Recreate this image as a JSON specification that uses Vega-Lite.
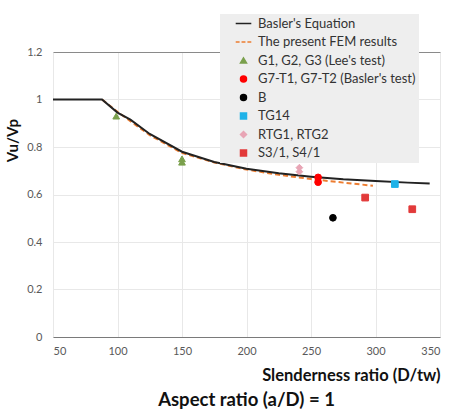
{
  "$schema": "https://vega.github.io/schema/vega-lite/v6.json",
  "width": 387,
  "height": 285,
  "autosize": {"type": "none"},
  "padding": {"left": 53, "top": 52, "right": 10, "bottom": 72},
  "background": "white",
  "config": {"font": "Lato", "view": {"stroke": null}},
  "title": {"text": "Aspect ratio (a/D) = 1", "orient": "bottom", "anchor": "middle", "fontSize": 18.5, "fontWeight": "bold", "font": "Lato", "color": "#111111", "offset": 7},
  "data": {"values": [
    {"series": "Basler's Equation", "x": 50, "y": 1},
    {"series": "Basler's Equation", "x": 88, "y": 1},
    {"series": "Basler's Equation", "x": 100, "y": 0.945},
    {"series": "Basler's Equation", "x": 110, "y": 0.915},
    {"series": "Basler's Equation", "x": 125, "y": 0.855},
    {"series": "Basler's Equation", "x": 150, "y": 0.78},
    {"series": "Basler's Equation", "x": 175, "y": 0.737},
    {"series": "Basler's Equation", "x": 200, "y": 0.708},
    {"series": "Basler's Equation", "x": 225, "y": 0.689},
    {"series": "Basler's Equation", "x": 250, "y": 0.675},
    {"series": "Basler's Equation", "x": 275, "y": 0.664},
    {"series": "Basler's Equation", "x": 300, "y": 0.657},
    {"series": "Basler's Equation", "x": 325, "y": 0.65},
    {"series": "Basler's Equation", "x": 342, "y": 0.646},
    {"series": "The present FEM results", "x": 88, "y": 1},
    {"series": "The present FEM results", "x": 100, "y": 0.948},
    {"series": "The present FEM results", "x": 125, "y": 0.85},
    {"series": "The present FEM results", "x": 150, "y": 0.775},
    {"series": "The present FEM results", "x": 175, "y": 0.735},
    {"series": "The present FEM results", "x": 200, "y": 0.705},
    {"series": "The present FEM results", "x": 225, "y": 0.683},
    {"series": "The present FEM results", "x": 250, "y": 0.665},
    {"series": "The present FEM results", "x": 275, "y": 0.65},
    {"series": "The present FEM results", "x": 298, "y": 0.637},
    {"series": "G1, G2, G3 (Lee's test)", "x": 99, "y": 0.93},
    {"series": "G1, G2, G3 (Lee's test)", "x": 150, "y": 0.75},
    {"series": "G1, G2, G3 (Lee's test)", "x": 150, "y": 0.736},
    {"series": "G7-T1, G7-T2 (Basler's test)", "x": 255.5, "y": 0.672},
    {"series": "G7-T1, G7-T2 (Basler's test)", "x": 255.5, "y": 0.652},
    {"series": "B", "x": 267, "y": 0.502},
    {"series": "TG14", "x": 315, "y": 0.644},
    {"series": "RTG1, RTG2", "x": 241, "y": 0.713},
    {"series": "RTG1, RTG2", "x": 241, "y": 0.696},
    {"series": "S3/1, S4/1", "x": 292, "y": 0.587},
    {"series": "S3/1, S4/1", "x": 328.5, "y": 0.538}
  ]},
  "encoding": {
    "x": {"field": "x", "type": "quantitative", "scale": {"domain": [50, 350], "nice": false, "zero": false},
      "axis": {"values": [50, 100, 150, 200, 250, 300, 350], "labelFontSize": 11, "labelColor": "#595959", "labelPadding": 8, "ticks": false, "domainColor": "#7a7a7a", "grid": true, "gridColor": "#e8e8e8", "title": "Slenderness ratio (D/tw)", "titleFontSize": 16.5, "titleFontWeight": "bold", "titleColor": "#111111", "titleAnchor": "end", "titlePadding": 11}},
    "y": {"field": "y", "type": "quantitative", "scale": {"domain": [0, 1.2], "nice": false},
      "axis": {"values": [0, 0.2, 0.4, 0.6, 0.8, 1, 1.2], "format": "~g", "labelFontSize": 11, "labelColor": "#595959", "labelPadding": 11, "ticks": false, "domain": false, "grid": true,
        "gridColor": {"condition": {"test": "datum.value > 1.1", "value": "#8a8a8a"}, "value": "#e8e8e8"},
        "title": "Vu/Vp", "titleFontSize": 15, "titleFontWeight": "bold", "titleColor": "#111111", "titleX": -33, "titleY": 88}}
  },
  "layer": [
    {"transform": [{"filter": "datum.series === 'The present FEM results'"}],
     "mark": {"type": "line", "color": "#ED7D31", "strokeWidth": 2, "strokeDash": [5, 3]}},
    {"transform": [{"filter": "datum.series === \"Basler's Equation\""}],
     "mark": {"type": "line", "color": "#222222", "strokeWidth": 2}},
    {"transform": [{"filter": "datum.series !== \"Basler's Equation\" && datum.series !== 'The present FEM results'"}],
     "mark": {"type": "point", "filled": true, "size": 45, "strokeWidth": 1, "opacity": 1},
     "encoding": {
       "fill": {"field": "series", "type": "nominal",
         "scale": {"domain": ["Basler's Equation", "The present FEM results", "G1, G2, G3 (Lee's test)", "G7-T1, G7-T2 (Basler's test)", "B", "TG14", "RTG1, RTG2", "S3/1, S4/1"],
                   "range": ["#222222", "#ED7D31", "#7AA04C", "#FF0000", "#000000", "#1FB2E8", "#E8A5B5", "#E23A3A"]},
         "legend": {"orient": "none", "legendX": 167, "legendY": -38, "title": null, "fillColor": "#eeeeee", "padding": 3, "labelFont": "Lato", "labelFontSize": 13, "labelColor": "#333333", "symbolSize": 36, "symbolStrokeWidth": 1.5, "symbolOffset": 14, "labelOffset": 8, "rowPadding": 4.5, "labelLimit": 300, "encode": {"legend": {"update": {"width": {"value": 234}}}}}},
       "stroke": {"field": "series", "type": "nominal",
         "scale": {"domain": ["Basler's Equation", "The present FEM results", "G1, G2, G3 (Lee's test)", "G7-T1, G7-T2 (Basler's test)", "B", "TG14", "RTG1, RTG2", "S3/1, S4/1"],
                   "range": ["#222222", "#ED7D31", "#7AA04C", "#FF0000", "#000000", "#1FB2E8", "#E8A5B5", "#E23A3A"]},
         "legend": {"orient": "none", "legendX": 167, "legendY": -38, "title": null, "fillColor": "#eeeeee", "padding": 3, "labelFont": "Lato", "labelFontSize": 13, "labelColor": "#333333", "symbolSize": 36, "symbolStrokeWidth": 1.5, "symbolOffset": 14, "labelOffset": 8, "rowPadding": 4.5, "labelLimit": 300, "encode": {"legend": {"update": {"width": {"value": 234}}}}}},
       "shape": {"field": "series", "type": "nominal",
         "scale": {"domain": ["Basler's Equation", "The present FEM results", "G1, G2, G3 (Lee's test)", "G7-T1, G7-T2 (Basler's test)", "B", "TG14", "RTG1, RTG2", "S3/1, S4/1"],
                   "range": ["M-2.6,0H2.6", "M-2.6,0H-1.3M-0.65,0H0.65M1.3,0H2.6", "triangle-up", "circle", "circle", "square", "diamond", "square"]},
         "legend": {"orient": "none", "legendX": 167, "legendY": -38, "title": null, "fillColor": "#eeeeee", "padding": 3, "labelFont": "Lato", "labelFontSize": 13, "labelColor": "#333333", "symbolSize": 36, "symbolStrokeWidth": 1.5, "symbolOffset": 14, "labelOffset": 8, "rowPadding": 4.5, "labelLimit": 300, "encode": {"legend": {"update": {"width": {"value": 234}}}}}}
     }}
  ]
}
